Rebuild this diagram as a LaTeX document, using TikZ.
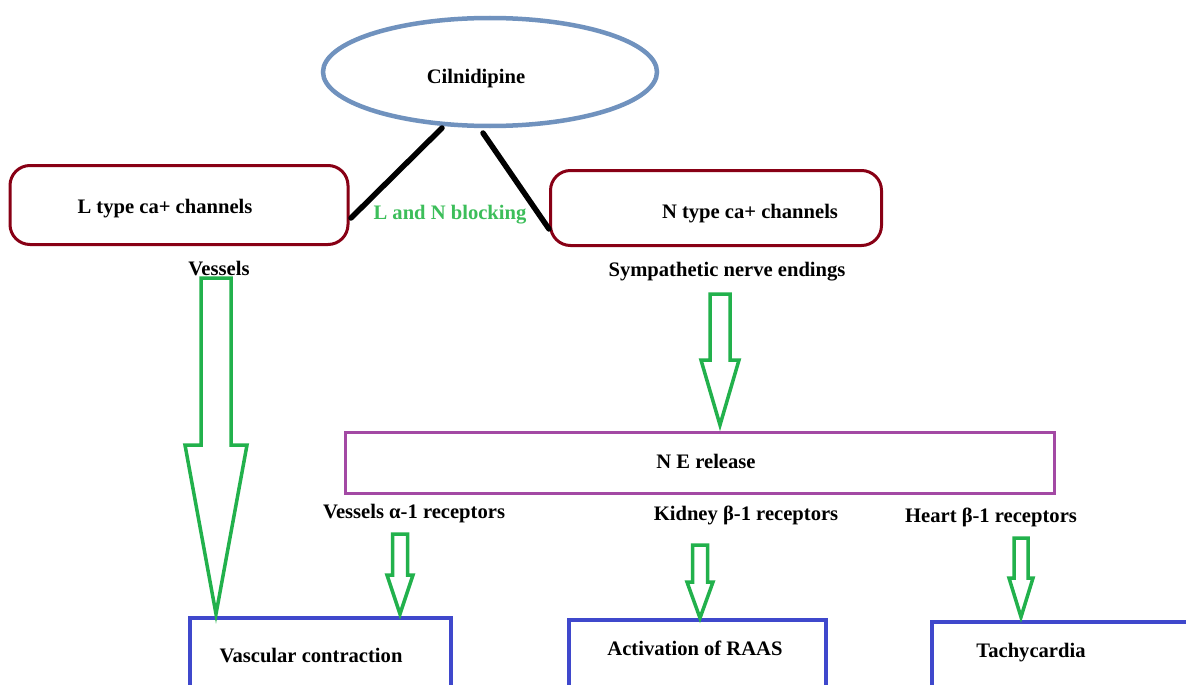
\documentclass[tikz,border=0pt]{standalone}
\usepackage{fontspec}
\setmainfont{Liberation Serif}
\usetikzlibrary{shapes.geometric}
\definecolor{steel}{HTML}{7092BE}
\definecolor{dred}{HTML}{880015}
\definecolor{pgreen}{HTML}{22B14C}
\definecolor{tgreen}{HTML}{3CBE5A}
\definecolor{ppurple}{HTML}{A349A4}
\definecolor{pindigo}{HTML}{3F48CC}
\newcommand{\blockarr}[6]{%
  \draw[garrow] (#1-#5,#2) -- (#1+#5,#2) -- (#1+#5,#3) -- (#1+#6,#3) -- (#1,#4) -- (#1-#6,#3) -- (#1-#5,#3) -- cycle;}
\begin{document}
\begin{tikzpicture}[x=1pt,y=-1pt,
  font=\fontsize{20.6}{24}\selectfont\bfseries,
  lbl/.style={anchor=base, inner sep=0pt},
  chanbox/.style={draw=dred, line width=3pt, rounded corners=20pt, inner sep=0pt},
  nebox/.style={draw=ppurple, line width=3pt, inner sep=0pt},
  outbox/.style={draw=pindigo, line width=3.2pt, inner sep=0pt},
  garrow/.style={draw=pgreen, line width=3.5pt, line join=miter},
  blk/.style={line width=5.5pt, line cap=round}]
\useasboundingbox (0,0) rectangle (1186,685);
\clip (0,0) rectangle (1186,685);
\fill[white] (0,0) rectangle (1186,685);

% Cilnidipine
\node[draw=steel, line width=4.5pt, ellipse, minimum width=334pt, minimum height=108pt, inner sep=0pt] (cil) at (490,72) {};
\node[lbl] (ciltext) at (476,84) {Cilnidipine};

% channel boxes
\node[chanbox, minimum width=338pt, minimum height=79pt] (lbox) at (179,205) {};
\node[lbl] (ltext) at (165,213) {L type ca+ channels};
\node[chanbox, minimum width=331pt, minimum height=75pt] (nbox) at (716,208) {};
\node[lbl] (ntext) at (750,218) {N type ca+ channels};

% blocking lines
\coordinate (c1) at (442,128);
\coordinate (c2) at (483,133);
\coordinate (l1) at (351,218);
\coordinate (n1) at (549,229);
\draw[blk] (c1) -- (l1);
\draw[blk] (c2) -- (n1);
\node[lbl, text=tgreen] (block) at (450,219) {L and N blocking};

\node[lbl] (vess) at (219,275) {Vessels};
\node[lbl] (symp) at (727,276) {Sympathetic nerve endings};

% NE release
\node[nebox, minimum width=709pt, minimum height=61pt] (ne) at (699.5,462.5) {};
\node[lbl] (netext) at (706,468) {N E release};

\node[lbl] (alpha) at (414,518) {Vessels α-1 receptors};
\node[lbl] (kid) at (746,520) {Kidney β-1 receptors};
\node[lbl] (heart) at (991,522) {Heart β-1 receptors};

% outcome boxes (bottom cut off)
\node[outbox, minimum width=261pt, minimum height=110pt] (vasc) at (320.5,673) {};
\node[lbl] (vasctext) at (311,662) {Vascular contraction};
\node[outbox, minimum width=257pt, minimum height=110pt] (raas) at (697.5,675) {};
\node[lbl] (raastext) at (695,655) {Activation of RAAS};
\node[outbox, minimum width=300pt, minimum height=110pt] (tach) at (1082,677) {};
\node[lbl] (tachtext) at (1031,657) {Tachycardia};

% green block arrows
\blockarr{216}{278}{445}{614}{15}{31}
\blockarr{720}{294}{360}{425}{10}{19}
\blockarr{400}{534}{575}{614}{7.5}{13}
\blockarr{700}{545}{582}{618}{7.5}{13}
\blockarr{1021}{538}{578}{617}{7}{12}
\end{tikzpicture}
\end{document}
